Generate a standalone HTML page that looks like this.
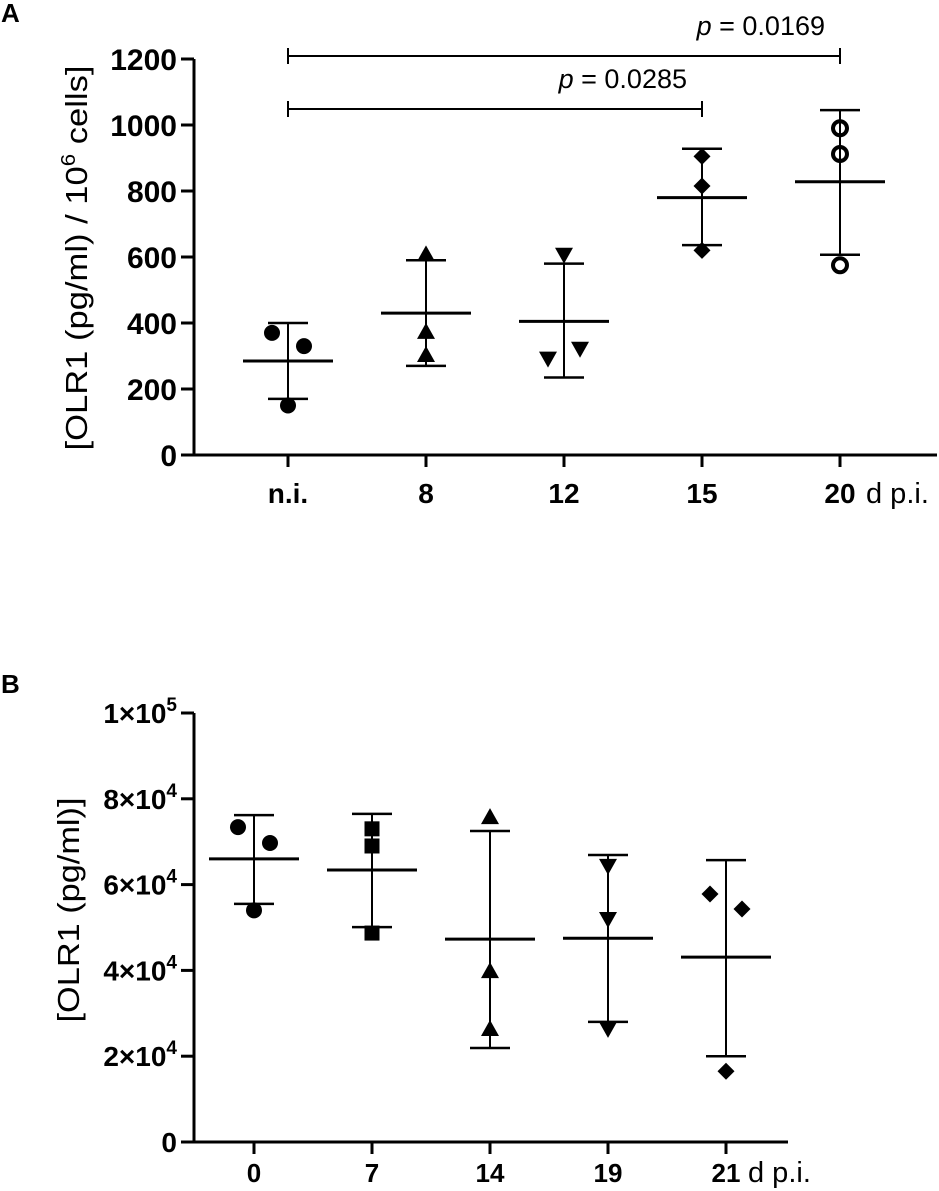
<!DOCTYPE html>
<html><head><meta charset="utf-8"><style>
body{margin:0;background:#fff;}
svg{display:block;font-family:"Liberation Sans",Arial,sans-serif;}
</style></head><body>
<svg id="fig" width="939" height="1191" viewBox="0 0 939 1191">
<text x="1" y="22" style="font-size:26px;font-weight:bold">A</text>
<text x="1" y="693" style="font-size:26px;font-weight:bold">B</text>
<text transform="translate(87,258) rotate(-90)" text-anchor="middle" textLength="385" lengthAdjust="spacingAndGlyphs" style="font-size:31px">[OLR1 (pg/ml) / 10<tspan dy="-12" style="font-size:20px">6</tspan><tspan dy="12"> cells]</tspan></text>
<text transform="translate(79,910) rotate(-90)" text-anchor="middle" textLength="225" lengthAdjust="spacingAndGlyphs" style="font-size:31px">[OLR1 (pg/ml)]</text>
<g id="ga"></g>
<g id="gb"></g>
</svg>
<script>
// ---- Panel A data ----
const catsA = ["n.i.","8","12","15","20"];
const meanA = [285,430,405,780,828];
const sdHiA = [400,590,580,928,1045];
const sdLoA = [170,270,235,636,607];
const ptsA = [[370,330,150],[605,370,300],[610,295,325],[905,815,620],[990,912,575]];
const ptOffA = [[-16,16,0],[0,0,0],[0,-16,16],[0,0,0],[0,0,0]];
const ticksA = [0,200,400,600,800,1000,1200];
const shapesA = ["circle","tri","itri","diamond","ring"];
// ---- Panel B data ----
const catsB = ["0","7","14","19","21"];
const meanB = [66000,63400,47300,47500,43100];
const sdHiB = [76200,76500,72500,66900,65700];
const sdLoB = [55500,50100,21900,28000,20000];
const ptsB = [[73400,69700,54000],[73000,69000,48700],[75500,39600,26100],[64600,52200,26600],[57800,54300,16500]];
const ptOffB = [[-16,16,0],[0,0,0],[0,0,0],[0,0,0],[-16,16,0]];
const ticksB = [0,20000,40000,60000,80000,100000];
const tickLabB = ["0","2×10|4","4×10|4","6×10|4","8×10|4","1×10|5"];
const shapesB = ["circle","square","tri","itri","diamond"];

const NS="http://www.w3.org/2000/svg";
function mk(parent,tag,attrs){const e=document.createElementNS(NS,tag);for(const k in attrs)e.setAttribute(k,attrs[k]);parent.appendChild(e);return e;}
function marker(g,shape,x,y){
  let e;
  if(shape==="circle")e=mk(g,"circle",{cx:x,cy:y,r:8,fill:"#000"});
  else if(shape==="ring")e=mk(g,"circle",{cx:x,cy:y,r:7,fill:"none",stroke:"#000","stroke-width":4});
  else if(shape==="tri")e=mk(g,"polygon",{points:`${x},${y-10} ${x-9},${y+6} ${x+9},${y+6}`,fill:"#000"});
  else if(shape==="itri")e=mk(g,"polygon",{points:`${x},${y+10} ${x-9},${y-6} ${x+9},${y-6}`,fill:"#000"});
  else if(shape==="diamond")e=mk(g,"polygon",{points:`${x},${y-8.5} ${x+8.5},${y} ${x},${y+8.5} ${x-8.5},${y}`,fill:"#000"});
  else e=mk(g,"rect",{x:x-7.5,y:y-7.5,width:15,height:15,fill:"#000"});
  return e;
}
function panel(g,o){
  const ys=v=>o.y0-(v-o.vmin)/(o.vmax-o.vmin)*(o.y0-o.y1);
  const xs=i=>o.xStart+i*o.xStep;
  const ax=mk(g,"path",{d:`M${o.ax},${o.y1} V${o.y0} H${o.xEnd}`,stroke:"#000","stroke-width":3,fill:"none"});
  
  
  o.ticks.forEach((t,i)=>{
    const y=ys(t);
    mk(g,"line",{x1:o.ax-13,x2:o.ax,y1:y,y2:y,stroke:"#000","stroke-width":3});
    const tx=mk(g,"text",{x:o.ax-17,y:y+o.tdy,"text-anchor":"end",style:`font-size:${o.tfs}px;font-weight:bold`});
    
    
    const lab=o.tickLab?o.tickLab[i]:String(t);
    if(lab.includes("|")){const [a,b]=lab.split("|");tx.textContent=a;const s=mk(tx,"tspan",{dy:-12,style:"font-size:19px"});s.textContent=b;}
    else tx.textContent=lab;
  });
  o.cats.forEach((c,i)=>{
    const x=xs(i);
    mk(g,"line",{x1:x,x2:x,y1:o.y0,y2:o.y0+12,stroke:"#000","stroke-width":3});
    const tx=mk(g,"text",{x:x,y:o.y0+o.xdy,"text-anchor":"middle",style:`font-size:${o.xfs}px;font-weight:bold`});
    tx.textContent=c;
    
    
    const grp=mk(g,"g",{});
    
    
    mk(grp,"line",{x1:x,x2:x,y1:ys(o.hi[i]),y2:ys(o.lo[i]),stroke:"#000","stroke-width":2});
    mk(grp,"line",{x1:x-20,x2:x+20,y1:ys(o.hi[i]),y2:ys(o.hi[i]),stroke:"#000","stroke-width":2.5});
    mk(grp,"line",{x1:x-20,x2:x+20,y1:ys(o.lo[i]),y2:ys(o.lo[i]),stroke:"#000","stroke-width":2.5});
    mk(grp,"line",{x1:x-45,x2:x+45,y1:ys(o.mean[i]),y2:ys(o.mean[i]),stroke:"#000","stroke-width":3});
    o.pts[i].forEach((v,j)=>{
      const m=marker(grp,o.shapes[i],x+o.off[i][j],ys(v));
      
      
    });
  });
  const d=mk(g,"text",{x:xs(o.cats.length-1)+o.ux,y:o.y0+o.xdy,style:"font-size:29px"});
  d.textContent="d p.i.";
  
  
  return {xs,ys};
}
const A=panel(document.getElementById("ga"),{ax:194,y0:455,y1:59,vmin:0,vmax:1200,xStart:288,xStep:138,xEnd:937,
  ticks:ticksA,cats:catsA,mean:meanA,hi:sdHiA,lo:sdLoA,pts:ptsA,off:ptOffA,shapes:shapesA,tfs:30,tdy:11,xfs:28,xdy:48,ux:26});
// significance brackets
const ga=document.getElementById("ga");
[[4,56,"p = 0.0169"],[3,109,"p = 0.0285"]].forEach(([j,y,l])=>{
  const b=mk(ga,"path",{d:`M${A.xs(0)},${y-8} V${y+8} M${A.xs(0)},${y} H${A.xs(j)} M${A.xs(j)},${y-8} V${y+8}`,stroke:"#000","stroke-width":2,fill:"none"});
  
  
  const t=mk(ga,"text",{x:A.xs(j)-15,y:y-21,"text-anchor":"end",style:"font-size:27px"});
  
  
  const it=mk(t,"tspan",{"font-style":"italic"});it.textContent="p";
  const r=mk(t,"tspan",{});r.textContent=l.slice(1);
});
panel(document.getElementById("gb"),{ax:194,y0:1142,y1:713,vmin:0,vmax:100000,xStart:254,xStep:118,xEnd:788,
  ticks:ticksB,tickLab:tickLabB,cats:catsB,mean:meanB,hi:sdHiB,lo:sdLoB,pts:ptsB,off:ptOffB,shapes:shapesB,tfs:28,tdy:10,xfs:26,xdy:40,ux:22});
</script>
</body></html>
